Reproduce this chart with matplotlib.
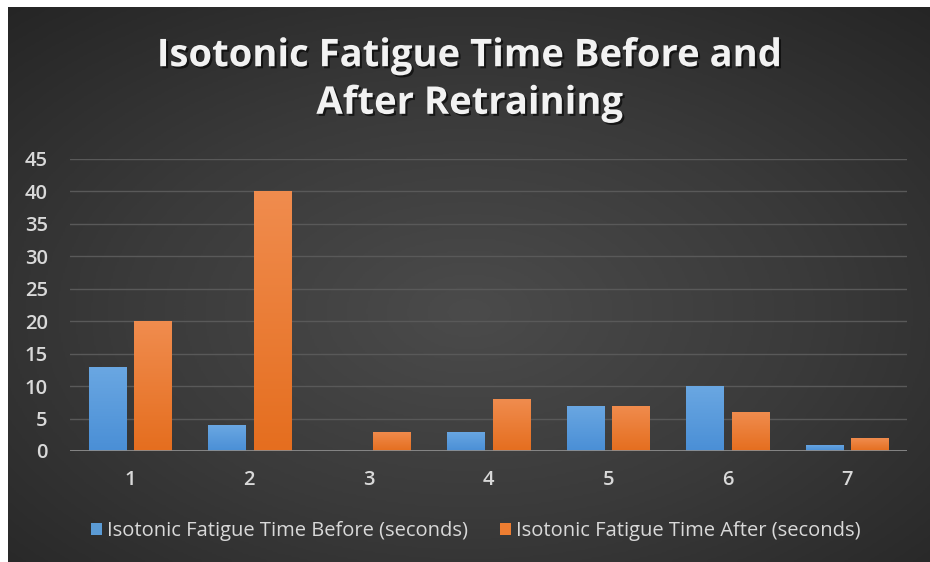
import numpy as np
import matplotlib
matplotlib.use('Agg')
import matplotlib.pyplot as plt
import matplotlib.patheffects as pe
from matplotlib.colors import LinearSegmentedColormap

categories = ['1', '2', '3', '4', '5', '6', '7']
before_vals = [13, 4, 0, 3, 7, 10, 1]
after_vals = [20, 40, 3, 8, 7, 6, 2]
label_before = 'Isotonic Fatigue Time Before (seconds)'
label_after = 'Isotonic Fatigue Time After (seconds)'
title = 'Isotonic Fatigue Time Before and\nAfter Retraining'

plt.rcParams['font.family'] = ['Open Sans', 'DejaVu Sans']

fig = plt.figure(figsize=(9.3, 5.62), dpi=100)
fig.patch.set_facecolor('white')

# dark radial background of the chart area
bg = fig.add_axes([8 / 930, 0, 922 / 930, 555 / 562])
bg.set_axis_off()
yy, xx = np.mgrid[0:1:300j, 0:1:500j]
r = np.sqrt(((xx - 0.5) / 0.75) ** 2 + ((yy - 0.55) / 0.75) ** 2)
bg_cmap = LinearSegmentedColormap.from_list('bg', ['#4b4b4b', '#3a3a3a', '#252525'])
bg.imshow(np.clip(r, 0, 1), cmap=bg_cmap, vmin=0, vmax=1, aspect='auto',
          extent=[0, 1, 0, 1], interpolation='bilinear')
bg.set_xlim(0, 1)
bg.set_ylim(0, 1)

ax = fig.add_axes([70 / 930, 111 / 562, 837 / 930, 292 / 562])
ax.patch.set_alpha(0)

x = np.arange(len(categories))
w = 0.31
off = 0.19
bars_b = ax.bar(x - off, before_vals, w, color='#5b9bd5', zorder=3)
bars_a = ax.bar(x + off, after_vals, w, color='#ed7d31', zorder=3)

# vertical gradient on bars
grad = np.linspace(0, 1, 100).reshape(-1, 1)
cm_b = LinearSegmentedColormap.from_list('b', ['#4a8fd6', '#6aa7e2'])
cm_a = LinearSegmentedColormap.from_list('a', ['#e56e1f', '#f08c4e'])
for bars, cm in ((bars_b, cm_b), (bars_a, cm_a)):
    for b in bars:
        h = b.get_height()
        if h <= 0:
            b.set_visible(False)
            continue
        x0 = b.get_x()
        im = ax.imshow(grad, cmap=cm, aspect='auto', origin='lower',
                       extent=[x0, x0 + b.get_width(), 0, h], zorder=3.5)
        im.set_clip_path(b)

ax.set_xlim(-0.5, len(categories) - 0.5)
ax.set_ylim(0, 45)
ax.set_yticks(np.arange(0, 46, 5))
ax.set_xticks(x)
ax.set_xticklabels(categories)
ax.grid(axis='y', color='#595959', linewidth=1, zorder=0)
ax.axhline(0, color='#8c8c8c', linewidth=2, zorder=4)
for s in ax.spines.values():
    s.set_visible(False)
ax.tick_params(length=0, colors='#d9d9d9', labelsize=14.5)
ax.tick_params(axis='y', pad=16)
ax.tick_params(axis='x', pad=14)
for t in ax.get_xticklabels() + ax.get_yticklabels():
    t.set_fontweight('semibold')

fig.text(470 / 930, 1 - 80 / 562, title, ha='center', va='center',
         fontsize=27.5, fontweight='bold', color='#f2f2f2', linespacing=1.33,
         path_effects=[pe.withSimplePatchShadow(offset=(1.5, -1.5), shadow_rgbFace='black', alpha=0.6)])

leg = fig.legend([bars_b, bars_a], [label_before, label_after], loc='center',
                 bbox_to_anchor=(476 / 930, 1 - 531 / 562), ncol=2, frameon=False,
                 fontsize=14.5, labelcolor='#d9d9d9', handlelength=0.55,
                 handleheight=0.6, handletextpad=0.25, columnspacing=1.6)

fig.savefig('out.png', dpi=100, facecolor=fig.get_facecolor())
